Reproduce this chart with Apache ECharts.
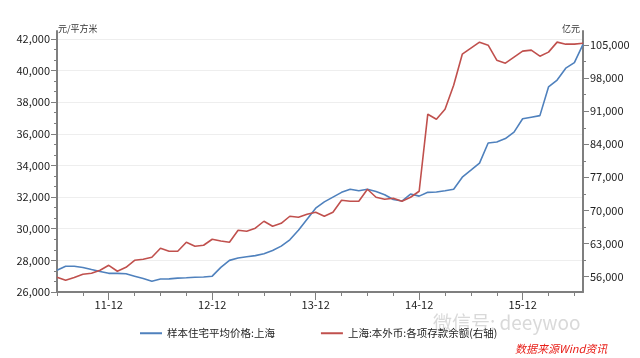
<!DOCTYPE html>
<html><head><meta charset="utf-8">
<script src="https://cdn.jsdelivr.net/npm/echarts@6/dist/echarts.min.js"></script>
<style>html,body{margin:0;padding:0;background:#fff}#c{width:640px;height:358px}</style>
</head><body><div id="c"></div>
<script>
const months = [
 "2011-06","2011-07","2011-08","2011-09","2011-10","2011-11","2011-12",
 "2012-01","2012-02","2012-03","2012-04","2012-05","2012-06","2012-07","2012-08","2012-09","2012-10","2012-11","2012-12",
 "2013-01","2013-02","2013-03","2013-04","2013-05","2013-06","2013-07","2013-08","2013-09","2013-10","2013-11","2013-12",
 "2014-01","2014-02","2014-03","2014-04","2014-05","2014-06","2014-07","2014-08","2014-09","2014-10","2014-11","2014-12",
 "2015-01","2015-02","2015-03","2015-04","2015-05","2015-06","2015-07","2015-08","2015-09","2015-10","2015-11","2015-12",
 "2016-01","2016-02","2016-03","2016-04","2016-05","2016-06","2016-07"
];
const priceSH = [
 27380,27630,27630,27550,27420,27300,27180,
 27180,27150,27000,26850,26680,26820,26830,26880,26900,26930,26950,27000,
 27560,28000,28150,28230,28300,28420,28620,28900,29300,29900,30600,31300,
 31700,32000,32300,32500,32400,32500,32350,32150,31850,31750,32190,32060,
 32300,32320,32400,32500,33260,33700,34150,35420,35480,35700,36110,36950,
 37050,37150,38960,39400,40150,40500,41650
];
const depositSH = [
 55820,55180,55750,56450,56660,57300,58360,
 57090,57940,59420,59630,60060,61960,61330,61330,63240,62390,62600,63870,
 63500,63240,65780,65570,66210,67690,66630,67260,68750,68540,69170,69600,
 68750,69600,72140,71930,71930,74470,72780,72350,72560,71930,72780,74050,
 90370,89310,91430,96500,103090,104360,105640,105000,101820,101180,102460,103730,
 103940,102670,103520,105640,105210,105210,105420
];
const leftTicks = [26000,28000,30000,32000,34000,36000,38000,40000,42000];
const leftMinor = [26667,27333,28667,29333,30667,31333,32667,33333,34667,35333,36667,37333,38667,39333,40667,41333];
const rightTicks = [56000,63000,70000,77000,84000,91000,98000,105000];
const rightMinor = [59500,66500,73500,80500,87500,94500,101500];
const seriesNames = ["样本住宅平均价格:上海","上海:本外币:各项存款余额(右轴)"];

const FONT = "'Noto Sans CJK SC','Liberation Sans',sans-serif";
const axisGray = '#7f7f7f';
const chart = echarts.init(document.getElementById('c'), null, {renderer:'canvas'});
const isDec = (i, v) => v.slice(5) === '12';
const isQuarter = (i, v) => ['03','06','09','12'].includes(v.slice(5));
const LMIN = 26000, LMAX = 42500, RMIN = 52700, RMAX = 108000;
const labelStyle = {color:'#222', fontSize:11, fontFamily:FONT};

chart.setOption({
  animation:false,
  backgroundColor:'#fff',
  grid:{left:57, right:57, top:31, bottom:66, containLabel:false},
  legend:{
    data:seriesNames, left:135, top:323, icon:'rect', itemWidth:22, itemHeight:2, itemGap:46,
    textStyle:{color:'#222', fontSize:10.5, fontFamily:FONT}
  },
  xAxis:[
    {type:'category', data:months, boundaryGap:false, position:'bottom',
     axisLine:{lineStyle:{color:axisGray, width:2}},
     axisTick:{interval:isQuarter, length:4, lineStyle:{color:axisGray, width:1}},
     axisLabel:Object.assign({interval:isDec, margin:7, formatter:v=>v.slice(2)}, labelStyle),
     splitLine:{show:false}},
    {type:'category', data:months, boundaryGap:false, position:'bottom',
     axisLine:{show:false},
     axisTick:{interval:isDec, length:8, lineStyle:{color:axisGray, width:1}},
     axisLabel:{show:false}, splitLine:{show:false}}
  ],
  yAxis:[
    {type:'value', min:LMIN, max:LMAX, position:'left',
     axisLine:{show:true, lineStyle:{color:axisGray, width:2}},
     axisTick:{show:true, customValues:leftTicks, length:6, lineStyle:{color:axisGray}},
     axisLabel:Object.assign({customValues:leftTicks, margin:7}, labelStyle),
     splitLine:{show:true, lineStyle:{color:'#eeeeee', width:1}}},
    {type:'value', min:RMIN, max:RMAX, position:'right',
     axisLine:{show:true, lineStyle:{color:axisGray, width:2}},
     axisTick:{show:true, customValues:rightTicks, length:6, lineStyle:{color:axisGray}},
     axisLabel:Object.assign({customValues:rightTicks, margin:7}, labelStyle),
     splitLine:{show:false}},
    {type:'value', min:LMIN, max:LMAX, position:'left',
     axisLine:{show:false},
     axisTick:{show:true, customValues:leftMinor, length:3, lineStyle:{color:axisGray}},
     axisLabel:{show:false}, splitLine:{show:false}},
    {type:'value', min:RMIN, max:RMAX, position:'right',
     axisLine:{show:false},
     axisTick:{show:true, customValues:rightMinor, length:3, lineStyle:{color:axisGray}},
     axisLabel:{show:false}, splitLine:{show:false}}
  ],
  series:[
    {name:seriesNames[0], type:'line', data:priceSH, xAxisIndex:0, yAxisIndex:0,
     symbol:'none', lineStyle:{color:'#4f81bd', width:1.6}, itemStyle:{color:'#4f81bd'}},
    {name:seriesNames[1], type:'line', data:depositSH, xAxisIndex:0, yAxisIndex:1,
     symbol:'none', lineStyle:{color:'#c0504d', width:1.6}, itemStyle:{color:'#c0504d'}}
  ],
  graphic:[
    {type:'text', left:58, top:24, style:{text:'元/平方米', fontSize:9, fill:'#333', fontFamily:FONT}},
    {type:'text', right:60, top:24, style:{text:'亿元', fontSize:9, fill:'#333', fontFamily:FONT}},
    {type:'text', left:433, top:313, z:100, style:{text:'微信号: deeywoo', fontSize:19, fill:'rgba(170,170,170,0.45)', fontFamily:FONT}},
    {type:'text', left:515, top:343, style:{text:'数据来源Wind资讯', fontSize:11, fontStyle:'italic', fill:'#e8201a', fontFamily:FONT}}
  ]
});
</script></body></html>
